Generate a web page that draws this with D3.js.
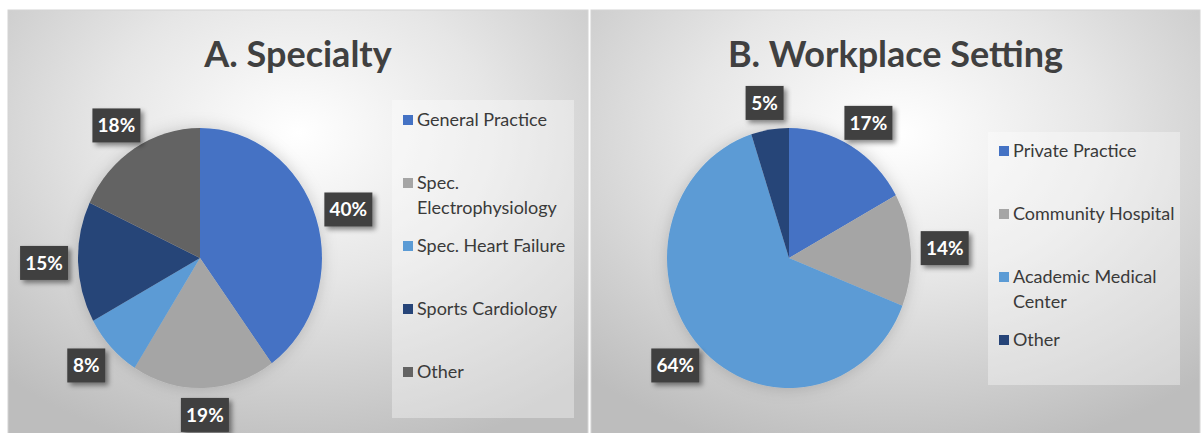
<!DOCTYPE html>
<html>
<head>
  <meta charset="utf-8">
  <script src="https://cdn.jsdelivr.net/npm/d3@7"></script>
  <style>
  body{
    margin: 0;
    background: #fff;
  }
  svg text{
    font-family: Lato, "Open Sans", sans-serif;
  }
  .title{
    font-weight: bold;
    fill: #404040;
  }
  .legend text{
    fill: #3a3a3a;
  }
  .pct{
    fill: #fff;
    font-weight: bold;
  }
  </style>
</head>
<body>
  <svg width="1202" height="433"></svg>
<script>
// data
var specialtyNames = ["General Practice", "Spec. Electrophysiology", "Spec. Heart Failure", "Sports Cardiology", "Other"];
var specialtyValues = [40, 19, 8, 15, 18];
var specialtyColors = ["#4472c4", "#a5a5a5", "#5b9bd5", "#264478", "#636363"];

var workplaceNames = ["Private Practice", "Community Hospital", "Academic Medical Center", "Other"];
var workplaceValues = [17, 14, 64, 5];
var workplaceColors = ["#4472c4", "#a5a5a5", "#5b9bd5", "#264478"];

// legend text wrapping, as in the picture
var specialtyLegendLines = [["General Practice"], ["Spec.", "Electrophysiology"], ["Spec. Heart Failure"], ["Sports Cardiology"], ["Other"]];
var workplaceLegendLines = [["Private Practice"], ["Community Hospital"], ["Academic Medical", "Center"], ["Other"]];

(function (d3){
  'use strict';
  var svg = d3.select("svg");
  var defs = svg.append("defs");

  var grad = defs.append("radialGradient")
      .attr("id", "panelBg")
      .attr("cx", "50%").attr("cy", "28%").attr("r", "75%");
  grad.append("stop").attr("offset", "0%").attr("stop-color", "#ffffff");
  grad.append("stop").attr("offset", "45%").attr("stop-color", "#e6e6e6");
  grad.append("stop").attr("offset", "100%").attr("stop-color", "#bdbdbd");

  var sh = defs.append("filter").attr("id", "boxShadow")
      .attr("x", "-30%").attr("y", "-30%").attr("width", "170%").attr("height", "170%");
  sh.append("feDropShadow").attr("dx", 3).attr("dy", 3).attr("stdDeviation", 2.5)
      .attr("flood-color", "#000").attr("flood-opacity", 0.45);

  var pieSh = defs.append("filter").attr("id", "pieShadow")
      .attr("x", "-20%").attr("y", "-20%").attr("width", "140%").attr("height", "140%");
  pieSh.append("feDropShadow").attr("dx", 0).attr("dy", 0).attr("stdDeviation", 8)
      .attr("flood-color", "#000").attr("flood-opacity", 0.18);

  function drawPanel(o){
    var g = svg.append("g");

    g.append("rect")
      .attr("x", o.x0).attr("y", 10)
      .attr("width", o.x1 - o.x0).attr("height", 440)
      .attr("fill", "url(#panelBg)")
      .attr("stroke", "#d4d4d4");

    g.append("text")
      .attr("class", "title")
      .attr("x", (o.x0 + o.x1) / 2)
      .attr("y", 67)
      .attr("text-anchor", "middle")
      .style("font-size", "36px")
      .text(o.title);

    var pie = d3.pie().sort(null).value(function(d){ return d; });
    var slices = pie(o.values);

    var arc = d3.arc().innerRadius(0).outerRadius(o.ry);
    var unitArc = d3.arc().innerRadius(1).outerRadius(1);

    var pg = g.append("g")
      .attr("transform", "translate(" + o.cx + "," + o.cy + ") scale(" + (o.rx / o.ry) + ",1)")
      .attr("filter", "url(#pieShadow)");

    pg.selectAll("path")
      .data(slices)
      .enter()
      .append("path")
      .attr("d", arc)
      .attr("fill", function(d, i){ return o.colors[i]; });

    // percentage boxes outside the pie
    var lab = g.selectAll(".lab")
      .data(slices)
      .enter()
      .append("g")
      .attr("class", "lab")
      .attr("transform", function(d){
        var c = unitArc.centroid(d);
        var x = o.cx + c[0] * (o.rx + 34);
        var y = o.cy + c[1] * (o.ry + 27);
        return "translate(" + x + "," + y + ")";
      });

    lab.append("rect")
      .attr("x", function(d){ return d.data >= 10 ? -24 : -19; })
      .attr("y", -17)
      .attr("width", function(d){ return d.data >= 10 ? 48 : 38; })
      .attr("height", 34)
      .attr("fill", "#404040")
      .attr("filter", "url(#boxShadow)");

    lab.append("text")
      .attr("class", "pct")
      .attr("text-anchor", "middle")
      .attr("dy", "0.36em")
      .style("font-size", "19px")
      .text(function(d){ return d.data + "%"; });

    // legend
    var leg = g.append("g").attr("class", "legend");
    leg.append("rect")
      .attr("x", o.leg.x).attr("y", o.leg.y)
      .attr("width", o.leg.w).attr("height", o.leg.h)
      .attr("fill", "#ffffff").attr("fill-opacity", 0.35);

    var items = leg.selectAll(".item")
      .data(o.lines)
      .enter()
      .append("g")
      .attr("class", "item")
      .attr("transform", function(d, i){
        return "translate(" + (o.leg.x + 11) + "," + (o.leg.first + i * o.leg.step) + ")";
      });

    items.append("rect")
      .attr("x", 0).attr("y", -5)
      .attr("width", 10).attr("height", 10)
      .attr("fill", function(d, i){ return o.colors[i]; });

    items.append("text")
      .attr("x", 14)
      .attr("y", 0)
      .style("font-size", "18px")
      .selectAll("tspan")
      .data(function(d){ return d; })
      .enter()
      .append("tspan")
      .attr("x", 14)
      .attr("dy", function(d, j){ return j === 0 ? "0.35em" : "25px"; })
      .text(function(d){ return d; });
  }

  drawPanel({
    x0: 8, x1: 588, title: "A. Specialty",
    values: specialtyValues, colors: specialtyColors, lines: specialtyLegendLines,
    cx: 200, cy: 258, rx: 122, ry: 130,
    leg: {x: 392, y: 100, w: 182, h: 318, first: 120, step: 63}
  });

  drawPanel({
    x0: 591, x1: 1200, title: "B. Workplace Setting",
    values: workplaceValues, colors: workplaceColors, lines: workplaceLegendLines,
    cx: 789, cy: 258, rx: 122, ry: 130,
    leg: {x: 988, y: 132, w: 192, h: 253, first: 151, step: 63}
  });
})(window.d3);
</script>
</body>
</html>
